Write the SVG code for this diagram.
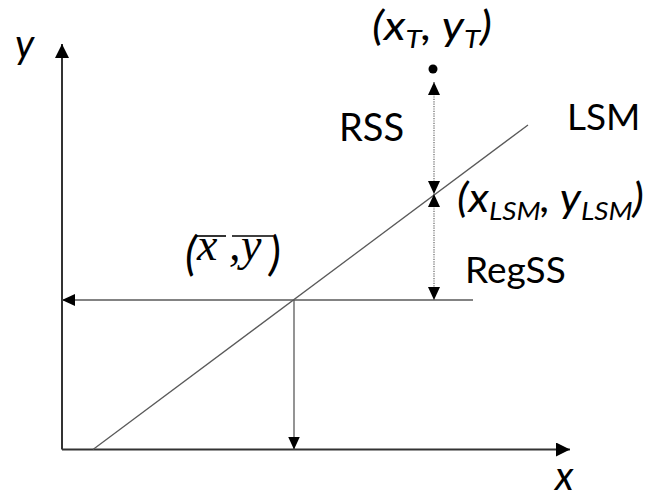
<svg xmlns="http://www.w3.org/2000/svg" width="645" height="499" viewBox="0 0 645 499">
<style>
.lbl{font-family:Lato,"Open Sans","Liberation Sans",sans-serif;fill:#000}
.it{font-style:italic}
.math{font-family:"Liberation Serif","DejaVu Serif",serif;font-style:italic;fill:#000}
.axis{stroke:#333;stroke-width:2;fill:none}
.thin{stroke:#5a5a5a;stroke-width:1.3;fill:none}
.dot{stroke:#666;stroke-width:1.2;stroke-dasharray:1.2 1.2;fill:none}
</style>
<defs>
<marker id="ahBig" viewBox="0 0 14 14" refX="14" refY="7" markerWidth="14" markerHeight="14" markerUnits="userSpaceOnUse" orient="auto-start-reverse"><path d="M0,0 L14,7 L0,14 z" fill="#000"/></marker>
<marker id="ah" viewBox="0 0 13 12" refX="13" refY="6" markerWidth="13" markerHeight="12" markerUnits="userSpaceOnUse" orient="auto-start-reverse"><path d="M0,0 L13,6 L0,12 z" fill="#000"/></marker>
</defs>
<rect width="645" height="499" fill="#fff"/>
<g id="axes">
<line class="axis" x1="62" y1="449.5" x2="62" y2="44" marker-end="url(#ahBig)"/>
<line class="axis" x1="62" y1="449.5" x2="570" y2="449.5" marker-end="url(#ahBig)"/>
</g>
<g id="lsm-line">
<line class="thin" x1="93" y1="449.5" x2="528" y2="125"/>
</g>
<g id="connectors">
<line class="thin" x1="473" y1="300" x2="62" y2="300" marker-end="url(#ah)"/>
<line class="thin" x1="294" y1="300" x2="294" y2="449.5" marker-end="url(#ah)"/>
<line class="dot" x1="434" y1="82" x2="434" y2="194" marker-start="url(#ah)" marker-end="url(#ah)"/>
<line class="dot" x1="434" y1="194" x2="434" y2="300" marker-start="url(#ah)" marker-end="url(#ah)"/>
</g>
<g id="point-T">
<circle cx="433" cy="69" r="4.5" fill="#000"/>
<text class="lbl it" x="372" y="40" font-size="41" textLength="120" lengthAdjust="spacingAndGlyphs">(x<tspan font-size="26" dy="8">T</tspan><tspan dy="-8">, y</tspan><tspan font-size="26" dy="8">T</tspan><tspan dy="-8">)</tspan></text>
</g>
<g id="label-y"><text class="lbl it" x="15" y="58" font-size="40">y</text></g>
<g id="label-x"><text class="lbl it" x="555" y="490" font-size="40">x</text></g>
<g id="label-RSS"><text class="lbl" x="339" y="141" font-size="38">RSS</text></g>
<g id="label-LSM"><text class="lbl" x="567" y="130" font-size="37">LSM</text></g>
<g id="label-RegSS"><text class="lbl" x="465" y="283" font-size="37">RegSS</text></g>
<g id="point-LSM">
<text class="lbl it" x="457" y="212" font-size="41" textLength="187" lengthAdjust="spacingAndGlyphs">(x<tspan font-size="26" dy="8">LSM</tspan><tspan dy="-8">, y</tspan><tspan font-size="26" dy="8">LSM</tspan><tspan dy="-8">)</tspan></text>
</g>
<g id="point-mean">
<text class="lbl it" x="185" y="270" font-size="46">(</text>
<text class="math" x="197" y="260" font-size="46">x</text>
<text class="math" x="229" y="260" font-size="46">,</text>
<text class="math" x="241" y="260" font-size="46">y</text>
<text class="lbl it" x="269" y="270" font-size="46">)</text>
<line x1="196" y1="236" x2="226" y2="236" stroke="#000" stroke-width="1.6"/>
<line x1="232" y1="236" x2="273" y2="236" stroke="#000" stroke-width="1.6"/>
</g>
</svg>
